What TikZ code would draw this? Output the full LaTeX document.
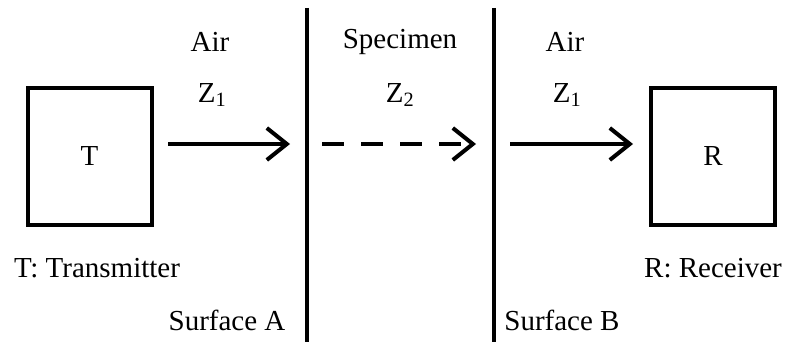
\documentclass[tikz,border=0pt]{standalone}
\usepackage{fontspec}
\setmainfont{Liberation Serif}
\usetikzlibrary{arrows.meta}
\begin{document}
\begin{tikzpicture}[x=1pt,y=-1pt,
  lbl/.style={font=\fontsize{29}{34}\selectfont, inner sep=0pt},
  device/.style={draw, line width=4pt, minimum width=124pt, minimum height=136pt, inner sep=0pt, font=\fontsize{29}{34}\selectfont},
  wall/.style={line width=4pt},
  wave/.style={line width=4pt, -{Straight Barb[length=20pt,width=32pt,line width=4pt]}}]
\useasboundingbox (0,0) rectangle (789,342);
\node[device] (T) at (89.5,156.5) {T};
\node[device] (R) at (713,156.5) {R};
\coordinate (Atop) at (307,8);
\coordinate (Abot) at (307,342);
\coordinate (Btop) at (494,8);
\coordinate (Bbot) at (494,342);
\draw[wall] (Atop) -- (Abot);
\draw[wall] (Btop) -- (Bbot);
\coordinate (a1s) at (168,144);
\coordinate (a1e) at (290,144);
\coordinate (a2s) at (322,144);
\coordinate (a2e) at (476,144);
\coordinate (a3s) at (510,144);
\coordinate (a3e) at (633,144);
\draw[wave] (a1s) -- (a1e);
\draw[wave, dash pattern=on 22pt off 17pt] (a2s) -- (a2e);
\draw[wave] (a3s) -- (a3e);
\node[lbl] (air1) at (210,42) {Air};
\node[lbl] (z1) at (212,95) {Z\textsubscript{1}};
\node[lbl] (spec) at (400,42) {Specimen};
\node[lbl] (z2) at (400,95) {Z\textsubscript{2}};
\node[lbl] (air2) at (565,42) {Air};
\node[lbl] (z3) at (567,95) {Z\textsubscript{1}};
\node[lbl] (tl) at (97,268) {T: Transmitter};
\node[lbl] (rl) at (713,268) {R: Receiver};
\node[lbl] (sa) at (227,320) {Surface A};
\node[lbl] (sb) at (562,320) {Surface B};
\end{tikzpicture}
\end{document}
